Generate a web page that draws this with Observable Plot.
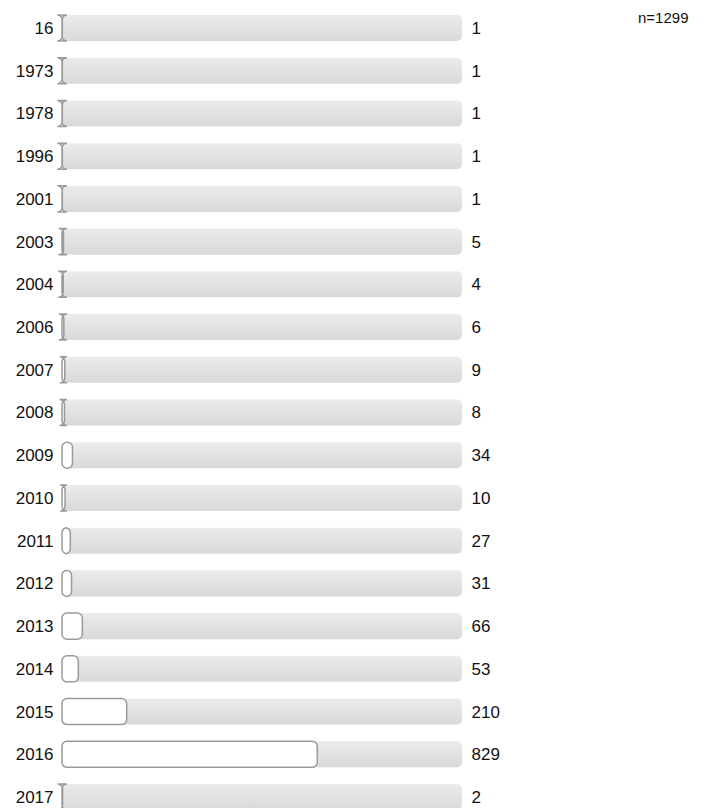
<!DOCTYPE html>
<html>
<head>
<meta charset="utf-8">
<script src="https://cdn.jsdelivr.net/npm/d3@7"></script>
<script src="https://cdn.jsdelivr.net/npm/@observablehq/plot@0.6"></script>
<style>
  html, body { margin: 0; padding: 0; background: #fff; overflow: hidden; }
  #chart { position: relative; width: 706px; }
</style>
</head>
<body>
<div id="chart"></div>
<script>
const categories = ["16","1973","1978","1996","2001","2003","2004","2006","2007","2008","2009","2010","2011","2012","2013","2014","2015","2016","2017"];
const counts = [1,1,1,1,1,5,4,6,9,8,34,10,27,31,66,53,210,829,2];
const total = 1299;

const data = categories.map((c, i) => ({category: c, count: counts[i]}));

const defs = () => {
  const g = d3.create("svg:defs");
  const lg = g.append("linearGradient").attr("id", "bggrad").attr("x1", 0).attr("y1", 0).attr("x2", 0).attr("y2", 1);
  lg.append("stop").attr("offset", "0%").attr("stop-color", "#ebebeb");
  lg.append("stop").attr("offset", "100%").attr("stop-color", "#d9d9d9");
  return g.node();
};

// Rounded bars whose corner radius is not clamped (gives I-beam caps on tiny bars)
const R = 5;
function roundPath(x, y, w, h, r) {
  return `M${x + r},${y}H${x + w - r}A${r},${r} 0 0 1 ${x + w},${y + r}V${y + h - r}` +
         `A${r},${r} 0 0 1 ${x + w - r},${y + h}H${x + r}A${r},${r} 0 0 1 ${x},${y + h - r}` +
         `V${y + r}A${r},${r} 0 0 1 ${x + r},${y}Z`;
}
function unclampedRender(index, scales, values, dimensions, context, next) {
  const g = next(index, scales, values, dimensions, context);
  if (!g) return g;
  g.querySelectorAll("rect").forEach((rect) => {
    const x = +rect.getAttribute("x"), y = +rect.getAttribute("y");
    const w = +rect.getAttribute("width"), h = +rect.getAttribute("height");
    const p = document.createElementNS("http://www.w3.org/2000/svg", "path");
    for (const a of rect.attributes) {
      if (!["x", "y", "width", "height", "rx", "ry"].includes(a.name)) p.setAttribute(a.name, a.value);
    }
    p.setAttribute("d", roundPath(x, y, w, h, R));
    rect.replaceWith(p);
  });
  return g;
}

const chart = Plot.plot({
  width: 706,
  height: 825,
  marginLeft: 62,
  marginRight: 244,
  marginTop: 0,
  marginBottom: 0,
  style: {fontFamily: "'Liberation Sans', Arial, sans-serif", fontSize: "17px", color: "#111", background: "#fff"},
  x: {domain: [0, total], axis: null},
  y: {domain: categories, paddingInner: 0.39, paddingOuter: 0.35, round: false, label: null},
  marks: [
    defs,
    Plot.barX(data, {y: "category", x1: 0, x2: total, fill: "url(#bggrad)", rx: R}),
    Plot.barX(data, {y: "category", x1: 0, x2: "count", fill: "#fff", stroke: "#9a9a9a", strokeWidth: 1.5, rx: R, render: unclampedRender}),
    Plot.axisY({tickSize: 0, tickPadding: 9, fontSize: 17, label: null}),
    Plot.text(data, {y: "category", x: total, text: d => String(d.count), dx: 9, textAnchor: "start", fontSize: 17, fill: "#111"}),
    Plot.text([`n=${total}`], {frameAnchor: "top-right", text: d => d, dx: 226, dy: 12, fontSize: 15, fill: "#111", textAnchor: "end"})
  ]
});
document.getElementById("chart").appendChild(chart);
</script>
</body>
</html>
